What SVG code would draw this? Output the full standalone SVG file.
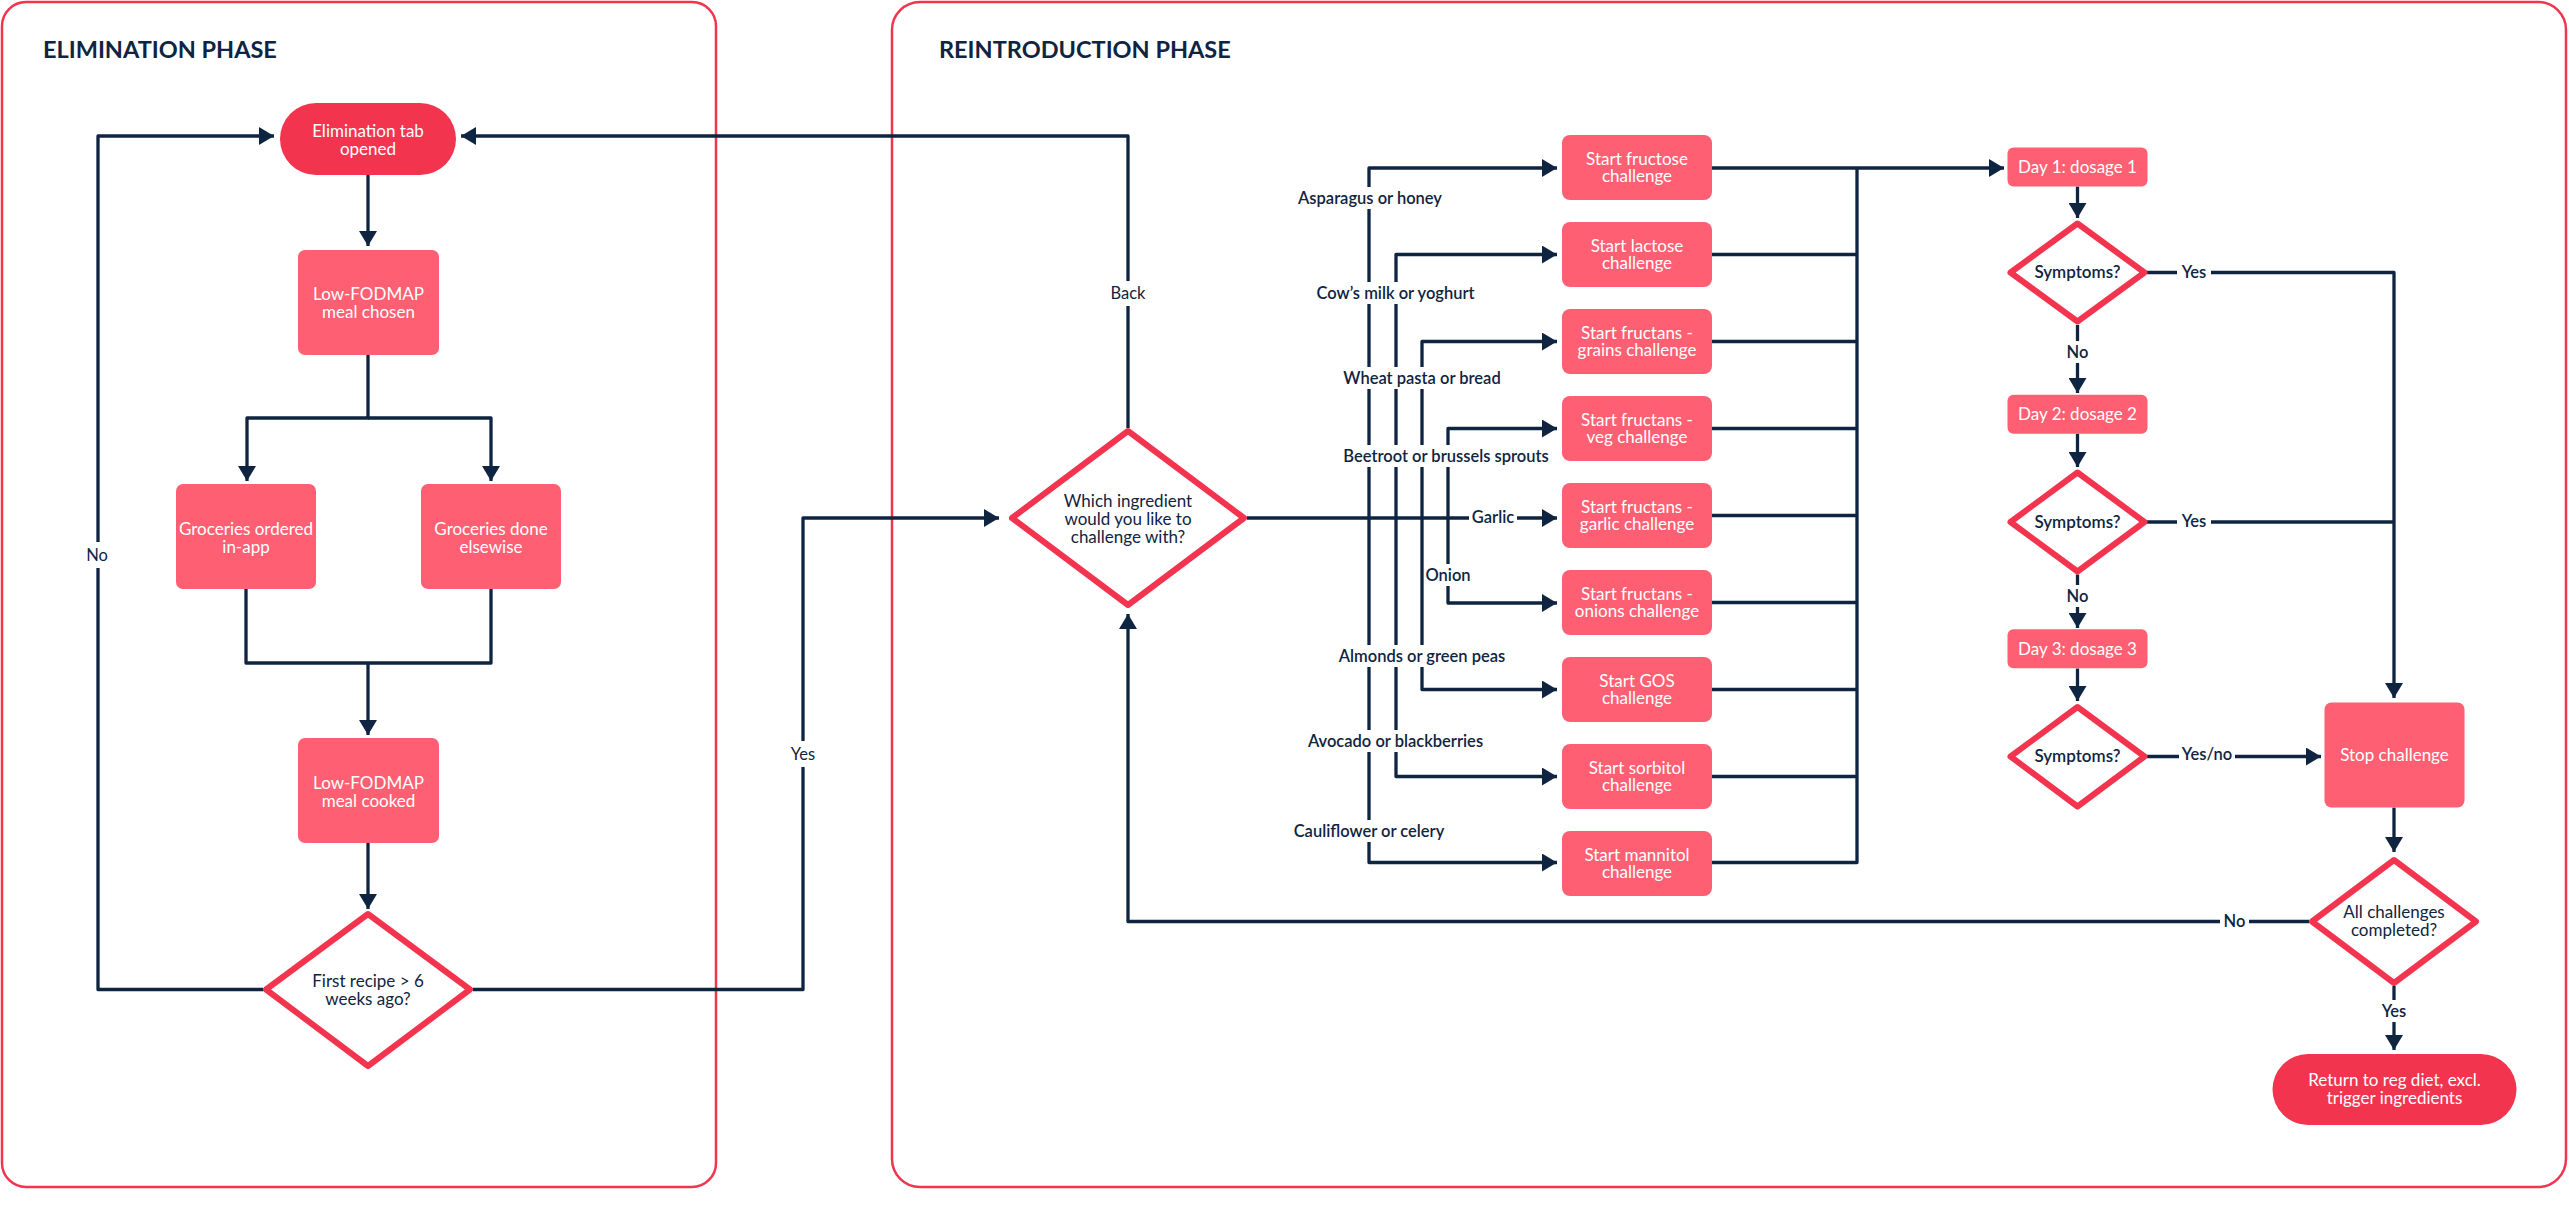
<svg xmlns="http://www.w3.org/2000/svg" width="2569" height="1206" viewBox="0 0 2569 1206">
<style>
.panel{fill:none;stroke:#f2344f;stroke-width:2.5}
.title{font-family:Lato,"Liberation Sans",sans-serif;font-weight:700;font-size:23.5px;fill:#0f2441}
.box{fill:#ff5f73}
.term{fill:#f2344f}
.dia{fill:#fff;stroke:#f2344f;stroke-width:6;stroke-linejoin:round}
.nt{font-family:Lato,"Liberation Sans",sans-serif;font-size:17px;fill:#fff;text-anchor:middle}
.dt{font-family:Lato,"Liberation Sans",sans-serif;font-size:17px;fill:#0f2441;text-anchor:middle}
.dts{font-weight:600}
.ln{fill:none;stroke:#0f2441;stroke-width:3.3;stroke-linejoin:round}
.arr{marker-end:url(#ah)}
.lb{fill:#fff}
.lt{font-family:Lato,"Liberation Sans",sans-serif;font-size:16.5px;font-weight:600;fill:#0f2441;text-anchor:middle}
.lr{font-weight:400}
</style>
<defs>
<marker id="ah" markerUnits="userSpaceOnUse" viewBox="0 0 15 18" markerWidth="15" markerHeight="18" refX="15" refY="9" orient="auto">
<path d="M0,0 L15,9 L0,18 z" fill="#0f2441"/>
</marker>
</defs>
<rect width="2569" height="1206" fill="#fff"/>

<g id="panel-elimination">
<rect class="panel" x="2" y="2" width="714" height="1185" rx="24"/>
<text class="title" x="43" y="58">ELIMINATION PHASE</text>
</g>
<g id="panel-reintroduction">
<rect class="panel" x="892" y="2" width="1674" height="1185" rx="28"/>
<text class="title" x="939" y="58">REINTRODUCTION PHASE</text>
</g>

<g id="connectors">
<!-- elimination -->
<path class="ln arr" d="M368,175 V246"/>
<path class="ln arr" d="M368,355 V418 H247 V481"/>
<path class="ln arr" d="M368,418 H491 V481"/>
<path class="ln" d="M246,589 V663 H491 V589"/>
<path class="ln arr" d="M368,663 V735"/>
<path class="ln arr" d="M368,843 V909"/>
<path class="ln arr" d="M263,989.5 H98 V136 H274"/>
<path class="ln arr" d="M473,989.5 H803 V518 H999"/>
<path class="ln arr" d="M1128,428 V136 H461"/>
<!-- ingredient branches -->
<path class="ln arr" d="M1247,518 H1557"/>
<path class="ln arr" d="M1369,518 V168 H1557"/>
<path class="ln arr" d="M1396,518 V254.5 H1557"/>
<path class="ln arr" d="M1422,518 V341.5 H1557"/>
<path class="ln arr" d="M1448,518 V428.5 H1557"/>
<path class="ln arr" d="M1448,518 V603 H1557"/>
<path class="ln arr" d="M1422,518 V689.5 H1557"/>
<path class="ln arr" d="M1396,518 V776.5 H1557"/>
<path class="ln arr" d="M1369,518 V862.5 H1557"/>
<!-- merge to day 1 -->
<path class="ln" d="M1712,254.5 H1857 M1712,341.5 H1857 M1712,428.5 H1857 M1712,515.5 H1857 M1712,602.5 H1857 M1712,689.5 H1857 M1712,776.5 H1857 M1712,862.5 H1857 V168"/>
<path class="ln arr" d="M1712,168 H2004"/>
<!-- day sequence -->
<path class="ln arr" d="M2077.5,186.5 V218"/>
<path class="ln arr" d="M2147,272.5 H2394 V698"/>
<path class="ln arr" d="M2077.5,325 V393"/>
<path class="ln arr" d="M2077.5,433.7 V467"/>
<path class="ln" d="M2147,522 H2394"/>
<path class="ln arr" d="M2077.5,574.5 V628"/>
<path class="ln arr" d="M2077.5,668.5 V701"/>
<path class="ln arr" d="M2147,756.5 H2321"/>
<path class="ln arr" d="M2394,807.5 V852"/>
<path class="ln arr" d="M2309,921.5 H1128 V614"/>
<path class="ln arr" d="M2394,986 V1050"/>

<!-- labels -->
<g id="label-no-elim"><rect class="lb" x="84" y="542" width="28" height="26"/><text class="lt lr" x="97" y="561">No</text></g>
<g id="label-yes-elim"><rect class="lb" x="787" y="741" width="32" height="26"/><text class="lt lr" x="803" y="760">Yes</text></g>
<g id="label-back"><rect class="lb" x="1104" y="281" width="48" height="25"/><text class="lt lr" x="1128" y="299">Back</text></g>
<g id="label-asparagus"><rect class="lb" x="1292" y="187" width="156" height="22"/><text class="lt" x="1370" y="204">Asparagus or honey</text></g>
<g id="label-cows"><rect class="lb" x="1311" y="282" width="169" height="22"/><text class="lt" x="1395.5" y="299">Cow’s milk or yoghurt</text></g>
<g id="label-wheat"><rect class="lb" x="1337" y="367" width="170" height="22"/><text class="lt" x="1422" y="384">Wheat pasta or bread</text></g>
<g id="label-beetroot"><rect class="lb" x="1339" y="445" width="214" height="22"/><text class="lt" x="1446" y="462">Beetroot or brussels sprouts</text></g>
<g id="label-garlic"><rect class="lb" x="1469" y="507" width="48" height="22"/><text class="lt" x="1493" y="523">Garlic</text></g>
<g id="label-onion"><rect class="lb" x="1424" y="564" width="48" height="22"/><text class="lt" x="1448" y="581">Onion</text></g>
<g id="label-almonds"><rect class="lb" x="1334" y="645" width="176" height="22"/><text class="lt" x="1422" y="662">Almonds or green peas</text></g>
<g id="label-avocado"><rect class="lb" x="1303" y="730" width="185" height="22"/><text class="lt" x="1395.5" y="747">Avocado or blackberries</text></g>
<g id="label-cauliflower"><rect class="lb" x="1290" y="820" width="158" height="22"/><text class="lt" x="1369" y="837">Cauliflower or celery</text></g>
<g id="label-yes1"><rect class="lb" x="2177" y="261" width="34" height="22"/><text class="lt" x="2194" y="278">Yes</text></g>
<g id="label-no1"><rect class="lb" x="2064" y="341" width="28" height="22"/><text class="lt" x="2077.5" y="358">No</text></g>
<g id="label-yes2"><rect class="lb" x="2177" y="510" width="34" height="22"/><text class="lt" x="2194" y="527">Yes</text></g>
<g id="label-no2"><rect class="lb" x="2064" y="585" width="28" height="22"/><text class="lt" x="2077.5" y="602">No</text></g>
<g id="label-yesno"><rect class="lb" x="2179" y="744" width="56" height="22"/><text class="lt" x="2207" y="760">Yes/no</text></g>
<g id="label-no-all"><rect class="lb" x="2220" y="910" width="29" height="22"/><text class="lt" x="2234.5" y="927">No</text></g>
<g id="label-yes-all"><rect class="lb" x="2377" y="1000" width="34" height="22"/><text class="lt" x="2394" y="1017">Yes</text></g>
</g>

<!-- elimination nodes -->
<g id="node-elimination-tab">
<rect class="term" x="280" y="103" width="176" height="72" rx="36"/>
<text class="nt" x="368" y="137">Elimination tab</text><text class="nt" x="368" y="155">opened</text>
</g>
<g id="node-meal-chosen">
<rect class="box" x="298" y="250" width="141" height="105" rx="7"/>
<text class="nt" x="368.5" y="300">Low-FODMAP</text><text class="nt" x="368.5" y="318">meal chosen</text>
</g>
<g id="node-groceries-inapp">
<rect class="box" x="176" y="484" width="140" height="105" rx="7"/>
<text class="nt" x="246" y="535">Groceries ordered</text><text class="nt" x="246" y="553">in-app</text>
</g>
<g id="node-groceries-else">
<rect class="box" x="421" y="484" width="140" height="105" rx="7"/>
<text class="nt" x="491" y="535">Groceries done</text><text class="nt" x="491" y="553">elsewise</text>
</g>
<g id="node-meal-cooked">
<rect class="box" x="298" y="738" width="141" height="105" rx="7"/>
<text class="nt" x="368.5" y="788.5">Low-FODMAP</text><text class="nt" x="368.5" y="806.5">meal cooked</text>
</g>
<g id="node-first-recipe">
<path class="dia" d="M368,914 L470,989.5 L368,1066 L266,989.5 Z"/>
<text class="dt" x="368" y="987">First recipe &gt; 6</text><text class="dt" x="368" y="1005">weeks ago?</text>
</g>

<!-- reintroduction nodes -->
<g id="node-which-ingredient">
<path class="dia" d="M1128,431 L1244,518 L1128,605 L1012,518 Z"/>
<text class="dt" x="1128" y="506.5">Which ingredient</text><text class="dt" x="1128" y="524.5">would you like to</text><text class="dt" x="1128" y="543">challenge with?</text>
</g>
<g id="node-fructose"><rect class="box" x="1562" y="135" width="150" height="65" rx="8"/><text class="nt" x="1637" y="164.5">Start fructose</text><text class="nt" x="1637" y="182">challenge</text></g>
<g id="node-lactose"><rect class="box" x="1562" y="222" width="150" height="65" rx="8"/><text class="nt" x="1637" y="251.5">Start lactose</text><text class="nt" x="1637" y="269">challenge</text></g>
<g id="node-grains"><rect class="box" x="1562" y="309" width="150" height="65" rx="8"/><text class="nt" x="1637" y="338.5">Start fructans -</text><text class="nt" x="1637" y="356">grains challenge</text></g>
<g id="node-veg"><rect class="box" x="1562" y="396" width="150" height="65" rx="8"/><text class="nt" x="1637" y="425.5">Start fructans -</text><text class="nt" x="1637" y="443">veg challenge</text></g>
<g id="node-garlic"><rect class="box" x="1562" y="483" width="150" height="65" rx="8"/><text class="nt" x="1637" y="512.5">Start fructans -</text><text class="nt" x="1637" y="530">garlic challenge</text></g>
<g id="node-onions"><rect class="box" x="1562" y="570" width="150" height="65" rx="8"/><text class="nt" x="1637" y="599.5">Start fructans -</text><text class="nt" x="1637" y="617">onions challenge</text></g>
<g id="node-gos"><rect class="box" x="1562" y="657" width="150" height="65" rx="8"/><text class="nt" x="1637" y="686.5">Start GOS</text><text class="nt" x="1637" y="704">challenge</text></g>
<g id="node-sorbitol"><rect class="box" x="1562" y="744" width="150" height="65" rx="8"/><text class="nt" x="1637" y="773.5">Start sorbitol</text><text class="nt" x="1637" y="791">challenge</text></g>
<g id="node-mannitol"><rect class="box" x="1562" y="831" width="150" height="65" rx="8"/><text class="nt" x="1637" y="860.5">Start mannitol</text><text class="nt" x="1637" y="878">challenge</text></g>

<g id="node-day1"><rect class="box" x="2007.5" y="147.5" width="140" height="39" rx="6"/><text class="nt" x="2077.5" y="173">Day 1: dosage 1</text></g>
<g id="node-symptoms1"><path class="dia" d="M2077.5,223.5 L2144.5,272.5 L2077.5,321.5 L2010.5,272.5 Z"/><text class="dt dts" x="2077.5" y="278">Symptoms?</text></g>
<g id="node-day2"><rect class="box" x="2007.5" y="394.7" width="140" height="39" rx="6"/><text class="nt" x="2077.5" y="420">Day 2: dosage 2</text></g>
<g id="node-symptoms2"><path class="dia" d="M2077.5,472.5 L2144.5,522 L2077.5,571.5 L2010.5,522 Z"/><text class="dt dts" x="2077.5" y="527.5">Symptoms?</text></g>
<g id="node-day3"><rect class="box" x="2007.5" y="629.3" width="140" height="39" rx="6"/><text class="nt" x="2077.5" y="655">Day 3: dosage 3</text></g>
<g id="node-symptoms3"><path class="dia" d="M2077.5,707 L2144.5,756.5 L2077.5,806.5 L2010.5,756.5 Z"/><text class="dt dts" x="2077.5" y="762">Symptoms?</text></g>
<g id="node-stop"><rect class="box" x="2324.5" y="702.5" width="140" height="105" rx="7"/><text class="nt" x="2394.5" y="761">Stop challenge</text></g>
<g id="node-all-completed"><path class="dia" d="M2394,860 L2476,921.5 L2394,983 L2312,921.5 Z"/><text class="dt" x="2394" y="918.4">All challenges</text><text class="dt" x="2394" y="936">completed?</text></g>
<g id="node-return"><rect class="term" x="2272.5" y="1054" width="244" height="71" rx="35.5"/><text class="nt" x="2394.5" y="1086">Return to reg diet, excl.</text><text class="nt" x="2394.5" y="1104">trigger ingredients</text></g>
</svg>
